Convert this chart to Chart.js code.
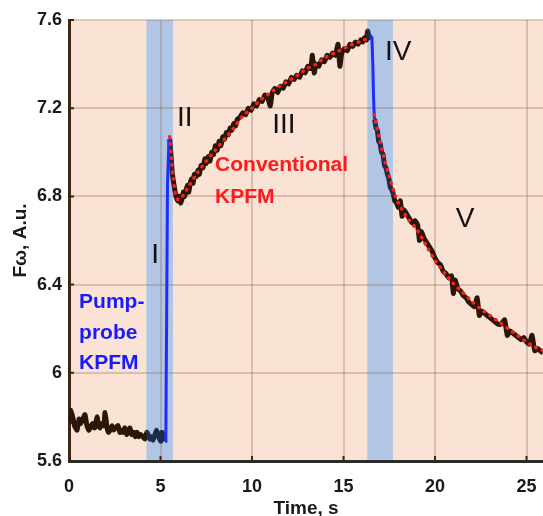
<!DOCTYPE html>
<html lang="en">

<head>
  <meta charset="UTF-8">
  <title>KPFM transient</title>
  <style>
    html, body { margin: 0; padding: 0; background: #fff; }
    #chartBox { width: 543px; height: 516px; }
  </style>
  <script src="https://cdn.jsdelivr.net/npm/chart.js"></script>
</head>

<body>
  <div id="chartBox"><canvas id="kpfm"></canvas></div>

  <script>
    // measured trace (black)
    const timeBefore = [0.00, 0.08, 0.20, 0.30, 0.44, 0.55, 0.65, 0.75, 0.87, 0.98, 1.08, 1.15, 1.28, 1.40, 1.53, 1.62, 1.69, 1.80, 1.90, 1.97,
      2.08, 2.16, 2.24, 2.35, 2.45, 2.55, 2.68, 2.78, 2.88, 2.95, 3.05, 3.15, 3.25, 3.33, 3.43, 3.55, 3.62, 3.72, 3.82, 3.92,
      4.04, 4.15, 4.25, 4.32, 4.42, 4.50, 4.59, 4.70, 4.78, 4.86, 4.95, 5.02, 5.08, 5.15, 5.25];
    const signalBefore = [5.77, 5.83, 5.80, 5.76, 5.74, 5.79, 5.77, 5.79, 5.81, 5.76, 5.74, 5.75, 5.77, 5.75, 5.80, 5.76, 5.75, 5.77, 5.76, 5.82,
      5.75, 5.73, 5.74, 5.76, 5.74, 5.75, 5.76, 5.73, 5.74, 5.73, 5.75, 5.72, 5.74, 5.75, 5.72, 5.73, 5.71, 5.73, 5.71, 5.72,
      5.71, 5.70, 5.73, 5.72, 5.70, 5.71, 5.695, 5.72, 5.74, 5.72, 5.70, 5.69, 5.73, 5.72, 5.69];

    const timeMid = [5.50, 5.58, 5.65, 5.72, 5.80, 5.88, 5.95, 6.02, 6.10, 6.18, 6.25, 6.32, 6.40, 6.48, 6.55, 6.62, 6.70, 6.78, 6.85, 6.95,
      7.05, 7.12, 7.22, 7.32, 7.42, 7.50, 7.60, 7.70, 7.80, 7.90, 8.00, 8.10, 8.20, 8.30, 8.40, 8.50, 8.60, 8.70, 8.80, 8.90,
      9.00, 9.10, 9.20, 9.35, 9.50, 9.65, 9.80, 9.95, 10.10, 10.25, 10.40, 10.55, 10.70, 10.85, 11.00, 11.10, 11.25, 11.40, 11.55, 11.70,
      11.85, 12.00, 12.15, 12.30, 12.45, 12.60, 12.75, 12.90, 13.05, 13.20, 13.30, 13.40, 13.50, 13.65, 13.80, 13.95, 14.10, 14.25, 14.40, 14.55,
      14.70, 14.80, 14.90, 15.05, 15.20, 15.35, 15.50, 15.65, 15.80, 15.95, 16.05, 16.15, 16.25, 16.32, 16.40, 16.45];
    const signalMid = [7.06, 6.98, 6.90, 6.86, 6.82, 6.79, 6.78, 6.80, 6.77, 6.79, 6.82, 6.80, 6.83, 6.85, 6.82, 6.86, 6.88, 6.86, 6.90, 6.89,
      6.92, 6.90, 6.94, 6.93, 6.97, 6.95, 6.98, 6.96, 7.00, 6.99, 7.03, 7.01, 7.05, 7.03, 7.07, 7.06, 7.09, 7.08, 7.11, 7.10,
      7.13, 7.12, 7.15, 7.16, 7.18, 7.17, 7.20, 7.19, 7.22, 7.21, 7.24, 7.23, 7.26, 7.25, 7.21, 7.27, 7.29, 7.27, 7.30, 7.29,
      7.32, 7.31, 7.34, 7.33, 7.35, 7.34, 7.37, 7.36, 7.39, 7.38, 7.44, 7.36, 7.40, 7.39, 7.42, 7.41, 7.44, 7.43, 7.45, 7.44,
      7.49, 7.39, 7.45, 7.47, 7.46, 7.49, 7.48, 7.50, 7.49, 7.51, 7.50, 7.52, 7.51, 7.55, 7.52, 7.53];

    const timeAfter = [16.70, 16.78, 16.85, 16.92, 17.00, 17.08, 17.16, 17.24, 17.32, 17.40, 17.48, 17.56, 17.64, 17.72, 17.80, 17.90, 18.00, 18.10, 18.20, 18.30,
      18.45, 18.60, 18.75, 18.90, 19.05, 19.15, 19.25, 19.40, 19.55, 19.70, 19.85, 20.00, 20.15, 20.30, 20.45, 20.60, 20.75, 20.90, 21.00, 21.10,
      21.25, 21.40, 21.55, 21.70, 21.85, 22.00, 22.15, 22.30, 22.42, 22.55, 22.70, 22.85, 23.00, 23.15, 23.30, 23.45, 23.60, 23.80, 23.95, 24.10,
      24.25, 24.40, 24.55, 24.70, 24.85, 25.00, 25.15, 25.30, 25.45, 25.60, 25.75, 25.90];
    const signalAfter = [7.15, 7.11, 7.10, 7.05, 7.04, 7.00, 6.99, 6.94, 6.93, 6.90, 6.88, 6.84, 6.83, 6.81, 6.78, 6.77, 6.75, 6.78, 6.71, 6.74,
      6.72, 6.70, 6.68, 6.69, 6.67, 6.60, 6.64, 6.61, 6.59, 6.57, 6.55, 6.52, 6.50, 6.49, 6.46, 6.45, 6.43, 6.44, 6.36, 6.42,
      6.38, 6.37, 6.35, 6.34, 6.32, 6.31, 6.30, 6.34, 6.26, 6.28, 6.27, 6.26, 6.25, 6.24, 6.23, 6.22, 6.22, 6.24, 6.17, 6.19,
      6.18, 6.17, 6.16, 6.15, 6.16, 6.14, 6.13, 6.17, 6.10, 6.11, 6.10, 6.09];

    // pump-probe KPFM (blue)
    const pumpTime1 = [5.25, 5.29, 5.33, 5.38, 5.45, 5.50];
    const pumpSignal1 = [5.69, 5.70, 6.20, 6.85, 7.03, 7.06];
    const pumpTime2 = [16.45, 16.55, 16.60, 16.64, 16.68, 16.70];
    const pumpSignal2 = [7.53, 7.52, 7.40, 7.25, 7.16, 7.15];

    // conventional KPFM fit (red dotted)
    const fitTime1 = [5.50, 5.60, 5.70, 5.80, 5.90, 6.00, 6.20, 6.50, 7.00, 7.50, 8.00, 8.50, 9.00, 9.50, 10.00,
      10.50, 11.00, 11.50, 12.00, 12.50, 13.00, 13.50, 14.00, 14.50, 15.00, 15.50, 16.00, 16.40];
    const fitSignal1 = [7.07, 6.97, 6.88, 6.82, 6.79, 6.785, 6.80, 6.84, 6.905, 6.96, 7.01, 7.06, 7.11, 7.165, 7.20,
      7.24, 7.27, 7.30, 7.325, 7.35, 7.38, 7.40, 7.43, 7.45, 7.47, 7.49, 7.505, 7.52];
    const fitTime2 = [16.68, 16.80, 17.00, 17.20, 17.50, 17.80, 18.00, 18.50, 19.00, 19.50, 20.00, 20.50, 21.00, 21.50,
      22.00, 22.50, 23.00, 23.50, 24.00, 24.50, 25.00, 25.50, 25.90];
    const fitSignal2 = [7.17, 7.12, 7.05, 6.98, 6.89, 6.81, 6.77, 6.70, 6.65, 6.58, 6.51, 6.455, 6.405, 6.365,
      6.325, 6.29, 6.26, 6.23, 6.20, 6.17, 6.14, 6.115, 6.10];

    // shaded pump windows
    const bandStart = [4.23, 16.3];
    const bandEnd = [5.68, 17.7];

    const xTicks = [0, 5, 10, 15, 20, 25];
    const yTicks = [5.6, 6, 6.4, 6.8, 7.2, 7.6];

    // text labels: [text, x, y, colour, font, align]
    const labels = [
      ['I', 4.7, 6.534, '#111', '28px "Liberation Sans"', 'center'],
      ['II', 5.9, 7.156, '#111', '28px "Liberation Sans"', 'left'],
      ['III', 11.1, 7.124, '#111', '28px "Liberation Sans"', 'left'],
      ['IV', 17.27, 7.455, '#111', '28px "Liberation Sans"', 'left'],
      ['V', 21.64, 6.697, '#111', '28px "Liberation Sans"', 'center'],
      ['Conventional', 7.98, 6.942, '#ff1a1a', 'bold 21px "Liberation Sans"', 'left'],
      ['KPFM', 7.98, 6.797, '#ff1a1a', 'bold 21px "Liberation Sans"', 'left'],
      ['Pump-', 0.55, 6.321, '#1a1aff', 'bold 21px "Liberation Sans"', 'left'],
      ['probe', 0.55, 6.18, '#1a1aff', 'bold 21px "Liberation Sans"', 'left'],
      ['KPFM', 0.55, 6.044, '#1a1aff', 'bold 21px "Liberation Sans"', 'left']
    ];

    function toPoints(xs, ys) {
      return xs.map((x, i) => ({ x: x, y: ys[i] }));
    }

    function inBand(x) {
      return bandStart.some((s, i) => x >= s && x <= bandEnd[i]);
    }

    const measured = toPoints(timeBefore, signalBefore)
      .concat([{ x: 5.4, y: null }], toPoints(timeMid, signalMid))
      .concat([{ x: 16.6, y: null }], toPoints(timeAfter, signalAfter));
    const pumpProbe = toPoints(pumpTime1, pumpSignal1).concat([{ x: 11, y: null }], toPoints(pumpTime2, pumpSignal2));
    const conventional = toPoints(fitTime1, fitSignal1).concat([{ x: 16.5, y: null }], toPoints(fitTime2, fitSignal2));

    const fondo = {
      id: 'fondo',
      beforeDraw(chart) {
        const { ctx, chartArea: a, scales: { x } } = chart;
        ctx.save();
        ctx.fillStyle = '#fae3d5';
        ctx.fillRect(a.left, a.top, a.right - a.left, a.bottom - a.top);
        ctx.fillStyle = '#b1c5e5';
        bandStart.forEach((s, i) => {
          const x0 = x.getPixelForValue(s);
          const x1 = x.getPixelForValue(bandEnd[i]);
          ctx.fillRect(x0, a.top, x1 - x0, a.bottom - a.top);
        });
        ctx.restore();
      },
      beforeDatasetsDraw(chart) {
        // short inward tick marks
        const { ctx, chartArea: a, scales: { x, y } } = chart;
        ctx.save();
        ctx.strokeStyle = '#3d2517';
        ctx.lineWidth = 2;
        ctx.beginPath();
        yTicks.forEach(v => {
          const py = y.getPixelForValue(v);
          ctx.moveTo(a.left, py);
          ctx.lineTo(a.left + 5, py);
        });
        xTicks.forEach(v => {
          const px = x.getPixelForValue(v);
          ctx.moveTo(px, a.bottom);
          ctx.lineTo(px, a.bottom - 5);
        });
        ctx.stroke();
        ctx.restore();
      },
      afterDatasetsDraw(chart) {
        const { ctx, scales: { x, y } } = chart;
        ctx.save();
        ctx.textBaseline = 'middle';
        labels.forEach(([t, lx, ly, c, f, al]) => {
          ctx.fillStyle = c;
          ctx.font = f;
          ctx.textAlign = al;
          ctx.fillText(t, x.getPixelForValue(lx), y.getPixelForValue(ly));
        });
        ctx.restore();
      }
    };

    const tickFont = { family: '"Liberation Sans", Arial, sans-serif', size: 18, weight: 'bold', lineHeight: 1 };
    const titleFont = { family: '"Liberation Sans", Arial, sans-serif', size: 19, weight: 'bold', lineHeight: 1 };

    new Chart(document.getElementById('kpfm'), {
      type: 'line',
      data: {
        datasets: [{
          label: 'measured',
          data: measured,
          order: 3,
          borderColor: '#2a1708',
          borderWidth: 5,
          borderJoinStyle: 'round',
          pointRadius: 0,
          tension: 0.15,
          spanGaps: false,
          segment: {
            borderColor: c => inBand((c.p0.parsed.x + c.p1.parsed.x) / 2) ? '#1c2b47' : '#2a1708'
          }
        }, {
          label: 'Pump-probe KPFM',
          data: pumpProbe,
          order: 2,
          borderColor: '#1f2cff',
          borderWidth: 3,
          pointRadius: 0,
          tension: 0,
          spanGaps: false
        }, {
          label: 'Conventional KPFM',
          data: conventional,
          order: 1,
          borderColor: '#ff1e1e',
          borderWidth: 3.5,
          borderDash: [0.5, 6.5],
          borderCapStyle: 'round',
          pointRadius: 0,
          tension: 0.3,
          spanGaps: false
        }]
      },
      options: {
        responsive: true,
        maintainAspectRatio: false,
        animation: false,
        layout: { padding: { top: 20, right: 0, bottom: -2, left: 0 } },
        plugins: {
          legend: { display: false },
          tooltip: { enabled: false }
        },
        scales: {
          x: {
            type: 'linear',
            min: 0,
            max: 25.9,
            afterBuildTicks: s => { s.ticks = xTicks.map(v => ({ value: v })); },
            afterFit: s => { s.paddingLeft = 0; s.paddingRight = 0; },
            ticks: { color: '#1a1a1a', font: tickFont, padding: 17, maxRotation: 0 },
            grid: { color: 'rgba(140,105,85,0.3)', lineWidth: 2, drawTicks: true, tickLength: 0 },
            border: { color: '#2b2b2b', width: 3 },
            title: { display: true, text: 'Time, s', color: '#1a1a1a', font: titleFont, padding: { top: -14, bottom: 0 } }
          },
          y: {
            min: 5.6,
            max: 7.6,
            afterBuildTicks: s => { s.ticks = yTicks.map(v => ({ value: v })); },
            afterFit: s => { s.paddingTop = 0; s.paddingBottom = 0; },
            ticks: { color: '#1a1a1a', font: tickFont, padding: 7, callback: v => String(v) },
            grid: { color: 'rgba(140,105,85,0.3)', lineWidth: 2, drawTicks: true, tickLength: 0 },
            border: { color: '#3d2517', width: 3 },
            title: { display: true, text: 'Fω, A.u.', color: '#1a1a1a', font: titleFont, padding: { top: 11, bottom: 0 } }
          }
        }
      },
      plugins: [fondo]
    });
  </script>
</body>

</html>
